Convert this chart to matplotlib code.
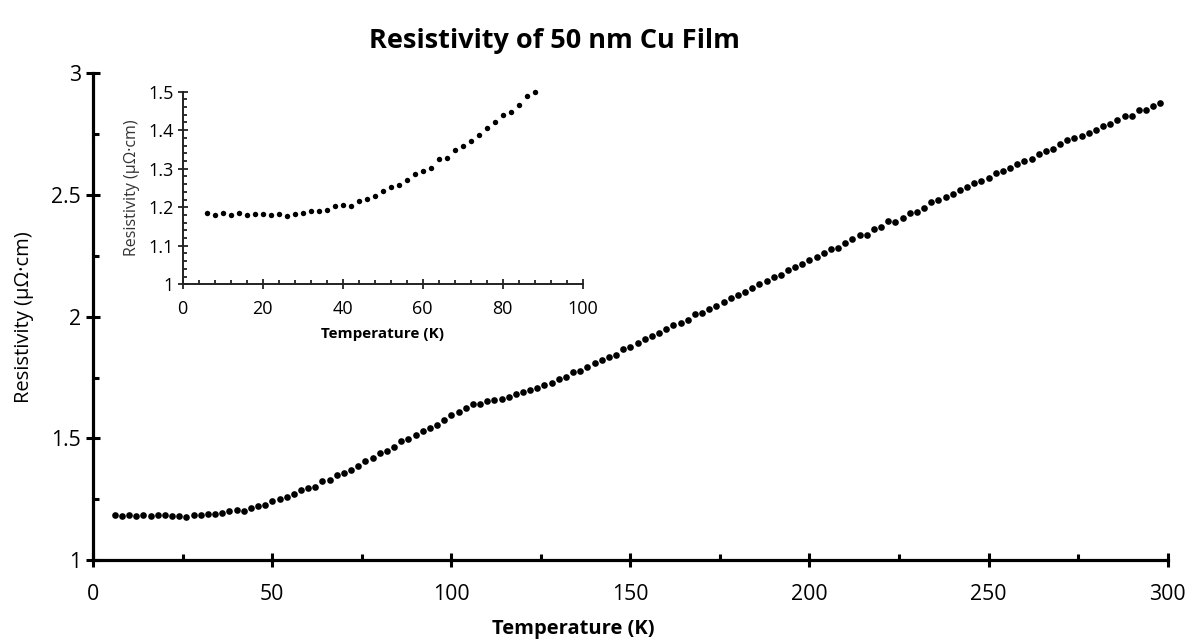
import matplotlib
matplotlib.use("Agg")
import matplotlib.pyplot as plt
from matplotlib.ticker import MultipleLocator
import numpy as np

plt.rcParams['font.family'] = ['Open Sans', 'DejaVu Sans']

# Temperature (K)
temperature = [6, 8, 10, 12, 14, 16, 18, 20, 22, 24, 26, 28, 30, 32, 34, 36, 38, 40,
               42, 44, 46, 48, 50, 52, 54, 56, 58, 60, 62, 64, 66, 68, 70, 72, 74, 76,
               78, 80, 82, 84, 86, 88, 90, 92, 94, 96, 98, 100, 102, 104, 106, 108,
               110, 112, 114, 116, 118, 120, 122, 124, 126, 128, 130, 132, 134, 136,
               138, 140, 142, 144, 146, 148, 150, 152, 154, 156, 158, 160, 162, 164,
               166, 168, 170, 172, 174, 176, 178, 180, 182, 184, 186, 188, 190, 192,
               194, 196, 198, 200, 202, 204, 206, 208, 210, 212, 214, 216, 218, 220,
               222, 224, 226, 228, 230, 232, 234, 236, 238, 240, 242, 244, 246, 248,
               250, 252, 254, 256, 258, 260, 262, 264, 266, 268, 270, 272, 274, 276,
               278, 280, 282, 284, 286, 288, 290, 292, 294, 296, 298]

# Resistivity (µΩ·cm)
resistivity = [1.184, 1.180, 1.184, 1.181, 1.184, 1.181, 1.183, 1.183, 1.180, 1.182,
               1.178, 1.183, 1.186, 1.191, 1.189, 1.193, 1.202, 1.205, 1.202, 1.215,
               1.222, 1.228, 1.241, 1.252, 1.259, 1.271, 1.286, 1.295, 1.302, 1.324,
               1.328, 1.349, 1.359, 1.371, 1.387, 1.407, 1.421, 1.439, 1.447, 1.466,
               1.489, 1.499, 1.515, 1.531, 1.544, 1.555, 1.575, 1.596, 1.608, 1.625,
               1.641, 1.640, 1.652, 1.658, 1.662, 1.670, 1.681, 1.690, 1.699, 1.707,
               1.719, 1.726, 1.743, 1.752, 1.771, 1.776, 1.792, 1.808, 1.822, 1.833,
               1.841, 1.866, 1.877, 1.891, 1.910, 1.921, 1.934, 1.951, 1.966, 1.975,
               1.988, 2.010, 2.016, 2.032, 2.044, 2.062, 2.077, 2.089, 2.102, 2.118,
               2.134, 2.147, 2.164, 2.170, 2.192, 2.203, 2.215, 2.233, 2.244, 2.262,
               2.277, 2.281, 2.303, 2.318, 2.336, 2.335, 2.359, 2.367, 2.392, 2.391,
               2.407, 2.427, 2.432, 2.448, 2.473, 2.480, 2.493, 2.506, 2.521, 2.533,
               2.550, 2.558, 2.570, 2.591, 2.598, 2.612, 2.629, 2.639, 2.648, 2.669,
               2.681, 2.689, 2.709, 2.725, 2.736, 2.744, 2.754, 2.766, 2.782, 2.791,
               2.810, 2.824, 2.826, 2.848, 2.851, 2.867, 2.877]

title = "Resistivity of 50 nm Cu Film"
xlabel = "Temperature (K)"
ylabel = "Resistivity (μΩ·cm)"

T = np.array(temperature)
R = np.array(resistivity)

fig = plt.figure(figsize=(11.93, 6.42), dpi=100)

# ---------- main axes ----------
ax = fig.add_axes([0.0782, 0.1277, 0.9005, 0.7581])
ax.plot(T, R, linestyle='none', marker='o', markersize=4.8, color='black',
        markeredgewidth=0, clip_on=False)
ax.set_xlim(0, 300)
ax.set_ylim(1, 3)
for s in ['top', 'right']:
    ax.spines[s].set_visible(False)
for s in ['left', 'bottom']:
    ax.spines[s].set_linewidth(2.3)
    ax.spines[s].set_color('black')
ax.xaxis.set_major_locator(MultipleLocator(50))
ax.xaxis.set_minor_locator(MultipleLocator(25))
ax.yaxis.set_minor_locator(MultipleLocator(0.25))
ax.set_yticks([1, 1.5, 2, 2.5, 3])
ax.set_yticklabels(['1', '1.5', '2', '2.5', '3'])
ax.tick_params(which='major', direction='inout', length=10, width=2.2,
               labelsize=15.3, color='black', pad=4)
ax.tick_params(which='minor', direction='in', length=4.5, width=2.2, color='black')
ax.tick_params(axis='x', which='major', pad=12)
ax.set_xlabel(xlabel, fontsize=14.5, fontweight='bold')
ax.xaxis.set_label_coords(0.4466, -0.122)
ax.set_ylabel(ylabel, fontsize=14.5, labelpad=12)
fig.text(0.465, 0.936, title, ha='center', va='center', fontsize=19.5, fontweight='bold')

# ---------- inset axes ----------
mask = R <= 1.5
ins = fig.add_axes([0.1531, 0.5572, 0.3353, 0.3000])
ins.plot(T[mask], R[mask], linestyle='none', marker='o', markersize=3.9,
         color='black', markeredgewidth=0, clip_on=False)
ins.set_xlim(0, 100)
ins.set_ylim(1, 1.5)
ins.patch.set_alpha(0)
for s in ['top', 'right']:
    ins.spines[s].set_visible(False)
for s in ['left', 'bottom']:
    ins.spines[s].set_linewidth(1.4)
    ins.spines[s].set_color('#222222')
ins.xaxis.set_major_locator(MultipleLocator(20))
ins.xaxis.set_minor_locator(MultipleLocator(4))
ins.yaxis.set_minor_locator(MultipleLocator(0.02))
ins.set_yticks([1, 1.1, 1.2, 1.3, 1.4, 1.5])
ins.set_yticklabels(['1', '1.1', '1.2', '1.3', '1.4', '1.5'])
ins.tick_params(which='major', direction='inout', length=7, width=1.3,
                labelsize=13, color='#222222', pad=3)
ins.tick_params(which='minor', direction='in', length=3, width=1.3, color='#222222')
ins.tick_params(axis='x', which='major', pad=8)
ins.set_xlabel(xlabel, fontsize=11, fontweight='bold', labelpad=6)
ins.set_ylabel(ylabel, fontsize=11.5, labelpad=6, color='#333333')

fig.savefig('out.png', dpi=100)
